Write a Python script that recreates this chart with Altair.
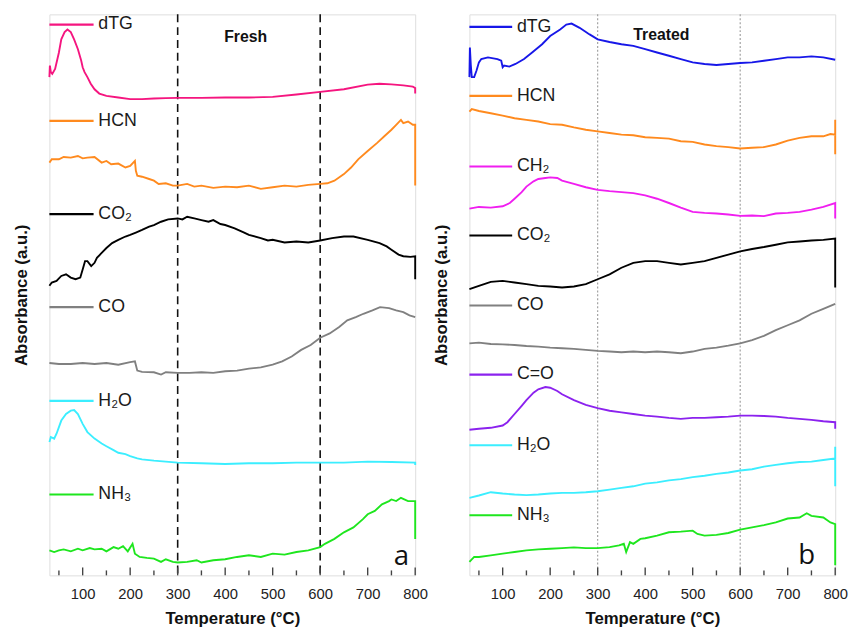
import altair as alt
import pandas as pd

# ---------------- data ----------------
X_DOMAIN = [30, 800]
Y_DOMAIN = [0, 17.07]
X_LABELS = [100, 200, 300, 400, 500, 600, 700, 800]
MAJOR_TICKS = [100, 200, 300, 400, 500, 600, 700, 800]
MINOR_TICKS = [50, 150, 250, 350, 450, 550, 650, 750]
GUIDE_T = [300, 600]

# ---- panel a: Fresh ----
a_dtg_T = [30, 31, 33, 36, 42, 50, 55, 62, 68, 75, 82, 90, 97, 100, 104, 110, 117, 125, 135, 150, 175, 200, 225, 250, 275, 300, 350, 400, 450, 500, 550, 600, 650, 700, 725, 750, 775, 795, 800, 800]
a_dtg_v = [15.16, 15.51, 15.31, 15.26, 15.41, 15.91, 16.31, 16.53, 16.61, 16.53, 16.31, 16.01, 15.66, 15.46, 15.31, 15.16, 14.96, 14.79, 14.66, 14.59, 14.54, 14.49, 14.49, 14.51, 14.52, 14.53, 14.53, 14.54, 14.54, 14.56, 14.63, 14.71, 14.79, 14.93, 14.96, 14.94, 14.91, 14.87, 14.83, 14.66]

a_hcn_T = [30, 35, 50, 60, 75, 90, 100, 110, 125, 140, 150, 160, 175, 190, 200, 210, 212, 215, 225, 240, 250, 260, 275, 290, 300, 320, 335, 350, 375, 400, 425, 450, 475, 500, 525, 550, 575, 600, 615, 630, 650, 665, 680, 700, 720, 735, 750, 760, 770, 775, 785, 795, 800, 800]
a_hcn_v = [12.56, 12.66, 12.66, 12.73, 12.71, 12.76, 12.69, 12.71, 12.73, 12.56, 12.61, 12.51, 12.53, 12.41, 12.46, 12.61, 12.31, 12.16, 12.13, 12.06, 12.01, 11.91, 11.93, 11.86, 11.86, 11.91, 11.83, 11.86, 11.79, 11.83, 11.81, 11.86, 11.76, 11.81, 11.86, 11.83, 11.88, 11.91, 11.93, 12.01, 12.21, 12.41, 12.66, 12.91, 13.16, 13.36, 13.56, 13.71, 13.86, 13.76, 13.81, 13.71, 13.71, 11.86]

a_co2_T = [30, 35, 45, 55, 65, 75, 85, 95, 100, 105, 110, 118, 125, 130, 140, 150, 162, 175, 190, 200, 212, 225, 240, 250, 265, 280, 300, 310, 320, 335, 350, 365, 375, 390, 400, 420, 440, 450, 475, 490, 500, 525, 550, 575, 600, 625, 650, 670, 700, 725, 740, 750, 765, 775, 790, 800, 800]
a_co2_v = [8.81, 8.91, 8.96, 9.11, 9.16, 9.06, 9.01, 9.06, 9.31, 9.56, 9.56, 9.41, 9.51, 9.66, 9.81, 9.96, 10.11, 10.21, 10.31, 10.36, 10.43, 10.51, 10.61, 10.66, 10.76, 10.83, 10.86, 10.83, 10.91, 10.86, 10.81, 10.76, 10.81, 10.69, 10.66, 10.56, 10.43, 10.36, 10.26, 10.19, 10.21, 10.13, 10.16, 10.13, 10.19, 10.26, 10.31, 10.31, 10.21, 10.11, 10.01, 9.91, 9.76, 9.71, 9.69, 9.71, 9.01]

a_co_T = [30, 50, 75, 100, 125, 150, 175, 200, 210, 215, 225, 250, 265, 275, 300, 325, 350, 375, 400, 425, 450, 475, 500, 520, 540, 560, 580, 600, 620, 640, 657, 675, 691, 710, 726, 745, 760, 775, 788, 800]
a_co_v = [6.46, 6.43, 6.43, 6.46, 6.43, 6.46, 6.41, 6.49, 6.51, 6.23, 6.19, 6.18, 6.11, 6.18, 6.16, 6.16, 6.18, 6.16, 6.21, 6.23, 6.29, 6.33, 6.41, 6.51, 6.66, 6.86, 7.01, 7.23, 7.36, 7.56, 7.76, 7.86, 7.96, 8.06, 8.16, 8.13, 8.06, 8.01, 7.91, 7.86]

a_h2o_T = [30, 33, 40, 45, 55, 65, 75, 82, 90, 100, 110, 125, 140, 150, 165, 175, 190, 200, 215, 225, 250, 275, 300, 350, 400, 450, 500, 550, 600, 650, 700, 750, 800, 800]
a_h2o_v = [4.06, 4.21, 4.16, 4.31, 4.71, 4.91, 5.01, 5.03, 4.91, 4.61, 4.36, 4.16, 4.01, 3.93, 3.81, 3.73, 3.69, 3.63, 3.56, 3.53, 3.49, 3.46, 3.43, 3.41, 3.39, 3.41, 3.41, 3.43, 3.43, 3.43, 3.46, 3.45, 3.43, 3.36]

a_nh3_T = [30, 40, 50, 60, 75, 90, 100, 115, 125, 140, 150, 165, 175, 185, 195, 205, 210, 220, 235, 250, 265, 275, 290, 300, 320, 340, 350, 375, 400, 425, 450, 475, 500, 525, 550, 575, 600, 610, 630, 650, 670, 690, 700, 715, 730, 745, 750, 760, 770, 785, 800, 800]
a_nh3_v = [0.76, 0.71, 0.76, 0.79, 0.73, 0.81, 0.76, 0.83, 0.79, 0.81, 0.73, 0.86, 0.81, 0.89, 0.73, 0.96, 0.66, 0.56, 0.53, 0.51, 0.41, 0.49, 0.41, 0.39, 0.41, 0.46, 0.39, 0.46, 0.49, 0.56, 0.61, 0.56, 0.66, 0.63, 0.71, 0.76, 0.86, 0.96, 1.11, 1.31, 1.46, 1.71, 1.86, 1.96, 2.16, 2.26, 2.31, 2.26, 2.36, 2.26, 2.26, 1.11]

# ---- panel b: Treated ----
b_dtg_T = [30, 31, 33, 35, 40, 45, 50, 55, 69, 89, 97, 100, 103, 114, 127, 145, 162, 183, 200, 221, 234, 245, 262, 283, 300, 325, 350, 375, 400, 425, 450, 475, 500, 525, 550, 575, 600, 625, 650, 675, 700, 725, 750, 775, 800]
b_dtg_v = [15.16, 16.06, 15.51, 15.16, 15.16, 15.36, 15.61, 15.71, 15.76, 15.71, 15.66, 15.46, 15.51, 15.48, 15.56, 15.71, 15.91, 16.16, 16.41, 16.61, 16.76, 16.79, 16.66, 16.46, 16.31, 16.23, 16.16, 16.11, 16.01, 15.91, 15.81, 15.71, 15.61, 15.56, 15.53, 15.56, 15.59, 15.61, 15.66, 15.71, 15.76, 15.76, 15.79, 15.76, 15.69]

b_hcn_T = [30, 35, 50, 75, 100, 125, 150, 175, 200, 225, 250, 275, 300, 325, 350, 375, 400, 425, 450, 475, 500, 525, 550, 575, 600, 625, 650, 675, 700, 725, 750, 775, 790, 800, 800, 800]
b_hcn_v = [14.11, 14.19, 14.13, 14.06, 13.99, 13.91, 13.86, 13.81, 13.73, 13.71, 13.63, 13.56, 13.51, 13.46, 13.41, 13.39, 13.33, 13.31, 13.29, 13.21, 13.19, 13.11, 13.06, 13.03, 12.99, 13.01, 13.03, 13.11, 13.23, 13.31, 13.36, 13.36, 13.43, 13.41, 13.86, 12.81]

b_ch2_T = [30, 50, 75, 100, 115, 125, 140, 150, 165, 175, 190, 200, 215, 225, 250, 275, 300, 325, 350, 375, 400, 425, 450, 475, 500, 525, 550, 575, 600, 625, 650, 675, 700, 725, 750, 775, 800, 800]
b_ch2_v = [11.16, 11.21, 11.19, 11.23, 11.33, 11.46, 11.66, 11.83, 11.99, 12.06, 12.09, 12.11, 12.09, 12.01, 11.91, 11.81, 11.73, 11.69, 11.66, 11.63, 11.56, 11.46, 11.33, 11.19, 11.06, 11.03, 11.01, 10.98, 10.94, 10.95, 10.93, 11.01, 11.03, 11.06, 11.13, 11.21, 11.33, 10.86]

b_co2_T = [30, 50, 75, 100, 125, 150, 175, 200, 225, 250, 275, 300, 325, 350, 375, 400, 425, 450, 475, 500, 525, 550, 575, 600, 625, 650, 675, 700, 725, 750, 775, 800, 800]
b_co2_v = [8.71, 8.81, 8.93, 8.96, 8.91, 8.86, 8.81, 8.79, 8.76, 8.79, 8.86, 9.01, 9.16, 9.36, 9.51, 9.56, 9.56, 9.51, 9.46, 9.51, 9.56, 9.66, 9.76, 9.86, 9.93, 9.99, 10.06, 10.13, 10.16, 10.19, 10.21, 10.25, 8.76]

b_co_T = [30, 50, 75, 100, 125, 150, 175, 200, 225, 250, 275, 300, 325, 350, 375, 400, 425, 450, 475, 500, 525, 550, 575, 600, 625, 650, 675, 700, 725, 750, 775, 800]
b_co_v = [7.06, 7.08, 7.04, 7.03, 7.01, 6.98, 6.96, 6.93, 6.91, 6.89, 6.86, 6.83, 6.81, 6.79, 6.81, 6.79, 6.81, 6.79, 6.76, 6.81, 6.89, 6.93, 6.99, 7.06, 7.16, 7.29, 7.46, 7.61, 7.76, 7.96, 8.11, 8.26]

b_cdo_T = [30, 50, 75, 100, 110, 125, 140, 150, 165, 175, 190, 200, 215, 225, 250, 275, 300, 325, 350, 375, 400, 425, 450, 475, 500, 525, 550, 575, 600, 625, 650, 675, 700, 725, 750, 775, 800, 800]
b_cdo_v = [4.43, 4.46, 4.49, 4.56, 4.66, 4.91, 5.16, 5.33, 5.56, 5.66, 5.73, 5.71, 5.61, 5.51, 5.33, 5.19, 5.09, 5.01, 4.96, 4.91, 4.86, 4.83, 4.79, 4.76, 4.79, 4.79, 4.81, 4.83, 4.86, 4.86, 4.85, 4.83, 4.79, 4.76, 4.73, 4.69, 4.66, 4.46]

b_h2o_T = [30, 50, 75, 100, 125, 150, 175, 200, 225, 250, 275, 300, 325, 350, 375, 400, 425, 450, 475, 500, 525, 550, 575, 600, 625, 650, 675, 700, 725, 750, 775, 800, 800, 800]
b_h2o_v = [2.36, 2.43, 2.53, 2.49, 2.46, 2.44, 2.46, 2.49, 2.51, 2.51, 2.53, 2.56, 2.61, 2.66, 2.71, 2.79, 2.83, 2.89, 2.93, 2.99, 3.03, 3.09, 3.13, 3.19, 3.23, 3.31, 3.36, 3.41, 3.45, 3.46, 3.51, 3.56, 3.91, 2.71]

b_nh3_T = [30, 40, 50, 75, 100, 125, 150, 175, 200, 225, 250, 275, 300, 325, 345, 355, 360, 368, 375, 390, 400, 425, 450, 475, 500, 510, 525, 550, 575, 600, 625, 650, 675, 700, 725, 740, 750, 775, 790, 800, 800]
b_nh3_v = [0.41, 0.56, 0.56, 0.61, 0.66, 0.71, 0.76, 0.79, 0.81, 0.83, 0.85, 0.83, 0.83, 0.86, 0.91, 0.96, 0.71, 1.01, 0.96, 1.11, 1.13, 1.21, 1.31, 1.33, 1.36, 1.26, 1.21, 1.23, 1.29, 1.39, 1.46, 1.53, 1.61, 1.73, 1.76, 1.89, 1.81, 1.76, 1.61, 1.56, 0.31]

# series: (label, color, T, values, label level)
fresh_series = [
    ("dTG", "#F5157F", a_dtg_T, a_dtg_v, 16.76),
    ("HCN", "#FF8A1E", a_hcn_T, a_hcn_v, 13.83),
    ("CO₂", "#000000", a_co2_T, a_co2_v, 10.99),
    ("CO", "#808080", a_co_T, a_co_v, 8.16),
    ("H₂O", "#3BEEFF", a_h2o_T, a_h2o_v, 5.31),
    ("NH₃", "#1EE61E", a_nh3_T, a_nh3_v, 2.46),
]
treated_series = [
    ("dTG", "#1717E8", b_dtg_T, b_dtg_v, 16.69),
    ("HCN", "#FF8A1E", b_hcn_T, b_hcn_v, 14.59),
    ("CH₂", "#F01EF0", b_ch2_T, b_ch2_v, 12.44),
    ("CO₂", "#000000", b_co2_T, b_co2_v, 10.34),
    ("CO", "#808080", b_co_T, b_co_v, 8.21),
    ("C=O", "#8B22EE", b_cdo_T, b_cdo_v, 6.11),
    ("H₂O", "#3BEEFF", b_h2o_T, b_h2o_v, 3.96),
    ("NH₃", "#1EE61E", b_nh3_T, b_nh3_v, 1.83),
]

PANEL_W = 371
PANEL_H = 569
FONT = "Liberation Sans"


def panel(series, title_text, title_pos, letter, letter_pos, guide_style, legend_x2, label_x):
    rows = []
    for name, color, ts, vs, _ in series:
        for i, (t, v) in enumerate(zip(ts, vs)):
            rows.append({"s": name, "c": color, "T": t, "v": v, "i": i})
    df = pd.DataFrame(rows)
    leg = pd.DataFrame([{"s": n, "c": c, "y": ly, "x1": 30, "x2": legend_x2, "xl": label_x}
                        for n, c, _, _, ly in series])

    x = alt.X("T:Q", scale=alt.Scale(domain=X_DOMAIN, nice=False, zero=False),
              axis=alt.Axis(values=X_LABELS, title="Temperature (°C)", ticks=False, domain=False,
                            grid=False, labelFlush=False, labelPadding=11, titlePadding=10,
                            labelFont=FONT, labelFontSize=15, labelColor="#222",
                            titleFont=FONT, titleFontSize=17, titleFontWeight="bold",
                            titleColor="#111"))
    y = alt.Y("v:Q", scale=alt.Scale(domain=Y_DOMAIN, nice=False, zero=False),
              axis=alt.Axis(title="Absorbance (a.u.)", labels=False, ticks=False, domain=False,
                            grid=False, titlePadding=19, titleFont=FONT, titleFontSize=17,
                            titleFontWeight="bold", titleColor="#111"))

    base = alt.Chart(df)
    guides = alt.Chart(pd.DataFrame({"T": GUIDE_T})).mark_rule(**guide_style).encode(x=alt.X("T:Q"))
    lines = base.mark_line(strokeWidth=1.9).encode(
        x=x, y=y, detail="s:N", color=alt.Color("c:N", scale=None), order="i:Q")
    leg_lines = alt.Chart(leg).mark_rule(strokeWidth=2.2).encode(
        x="x1:Q", x2="x2:Q", y="y:Q", color=alt.Color("c:N", scale=None))
    leg_text = alt.Chart(leg).mark_text(align="left", baseline="middle", font=FONT,
                                        fontSize=18, color="#1a1a1a").encode(
        x="xl:Q", y="y:Q", text="s:N")
    major = alt.Chart(pd.DataFrame({"T": MAJOR_TICKS})).mark_rule(color="#444", strokeWidth=1.4).encode(
        x="T:Q", y=alt.value(PANEL_H), y2=alt.value(PANEL_H - 8))
    minor = alt.Chart(pd.DataFrame({"T": MINOR_TICKS})).mark_rule(color="#444", strokeWidth=1.4).encode(
        x="T:Q", y=alt.value(PANEL_H), y2=alt.value(PANEL_H - 5))
    ann = pd.DataFrame([{"t": title_text, "x": title_pos[0], "y": title_pos[1]}])
    title_mark = alt.Chart(ann).mark_text(font=FONT, fontSize=16, fontWeight="bold",
                                          color="#111", baseline="middle").encode(
        x="x:Q", y="y:Q", text="t:N")
    let = pd.DataFrame([{"t": letter, "x": letter_pos[0], "y": letter_pos[1]}])
    letter_mark = alt.Chart(let).mark_text(font="Open Sans", fontSize=28, color="#111",
                                           baseline="middle").encode(
        x="x:Q", y="y:Q", text="t:N")
    return alt.layer(guides, lines, leg_lines, leg_text, title_mark, letter_mark, major, minor).properties(
        width=PANEL_W, height=PANEL_H)


pa = panel(fresh_series, "Fresh", (443, 16.38), "a", (771, 0.56),
           dict(color="#111", strokeWidth=1.6, strokeDash=[8, 5]), 123, 133)
pb = panel(treated_series, "Treated", (434, 16.45), "b", (740, 0.6),
           dict(color="#999", strokeWidth=1.1, strokeDash=[2, 2]), 120, 130)

chart = alt.hconcat(pa, pb, spacing=3).properties(
    padding={"left": 4, "top": 0, "right": 0, "bottom": 0}
).configure_view(stroke="#444", strokeWidth=1.5).configure(background="white")

chart.save("out.html", embed_options={"renderer": "svg", "actions": False})
